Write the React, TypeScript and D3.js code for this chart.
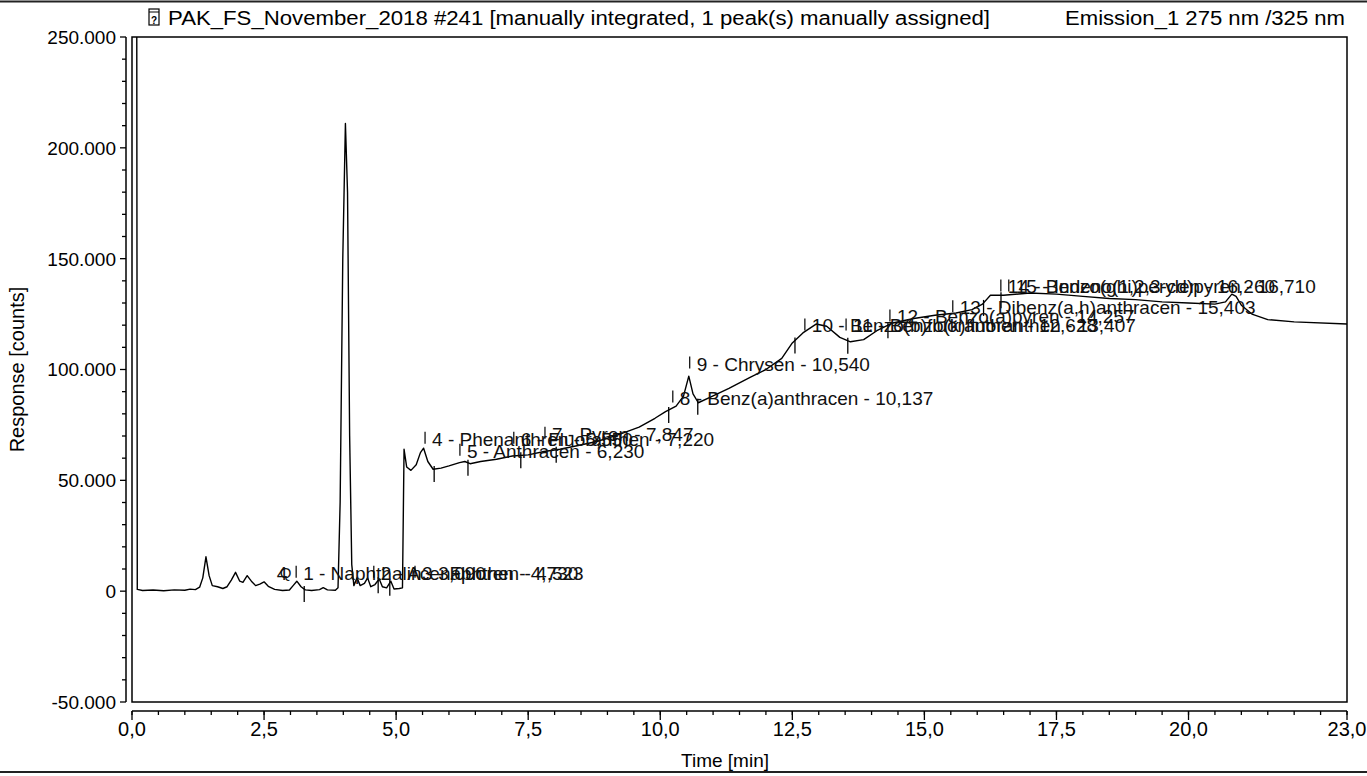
import React from "react";
import * as d3 from "d3";

// Chromatogram trace: retention time [min] and detector response [counts]
const traceTime = [
  0.0, 0.09, 0.1, 0.2, 0.4, 0.6, 0.8, 1.0, 1.1, 1.2, 1.28, 1.34, 1.4, 1.46, 1.52, 1.62, 1.72, 1.8, 1.88, 1.96,
  2.04, 2.1, 2.18, 2.26, 2.34, 2.42, 2.5, 2.58, 2.7, 2.85, 2.98, 3.05, 3.12, 3.2, 3.28, 3.4, 3.55, 3.62, 3.7,
  3.85, 3.9, 3.94, 3.99, 4.04, 4.08, 4.12, 4.16, 4.2, 4.26, 4.32, 4.4, 4.46, 4.52, 4.6, 4.68, 4.74, 4.82, 4.9,
  4.96, 5.06, 5.12, 5.15, 5.2, 5.28, 5.38, 5.46, 5.52, 5.6, 5.7, 5.85, 6.0, 6.2, 6.3, 6.4, 6.6, 6.9, 7.2, 7.5,
  7.8, 8.1, 8.4, 8.8, 9.2, 9.6, 9.9, 10.1, 10.3, 10.44, 10.54, 10.62, 10.72, 10.95, 11.3, 11.7, 12.0, 12.3,
  12.5, 12.7, 12.95, 13.15, 13.4, 13.6, 13.85, 14.1, 14.4, 14.8, 15.2, 15.6, 15.9, 16.1, 16.25, 16.5, 17.0,
  17.5, 18.0, 18.5, 19.0, 19.5, 20.0, 20.5, 20.7, 20.82, 20.9, 21.0, 21.2, 21.5, 22.0, 23.0,
];
const traceCounts = [
  262000, 262000, 800, 300, 500, 200, 600, 400, 900, 700, 1800, 6000, 15500, 7000, 2500, 2000, 1200, 2000, 5000,
  8500, 4500, 4000, 7000, 4500, 2500, 3200, 4200, 2200, 800, 300, 500, 2500, 4500, 2000, 600, 300, 700, 1600,
  600, 400, 1500, 40000, 150000, 211000, 180000, 70000, 12000, 2500, 6000, 2500, 3500, 6000, 2000, 3000, 5500,
  2000, 1500, 4500, 1000, 1200, 1500, 64000, 56000, 54500, 57000, 62500, 64500, 58500, 55000, 55500, 56500,
  58000, 58500, 57500, 58500, 59500, 61000, 61500, 63000, 64000, 65500, 67500, 70500, 74000, 78000, 81000,
  83500, 88000, 97000, 89000, 85000, 87500, 91500, 96500, 100000, 105000, 112000, 116500, 120500, 119500,
  114500, 112500, 113500, 117500, 121000, 123000, 124500, 125500, 127000, 129500, 133500, 133500, 134500,
  134000, 133000, 132000, 131500, 130500, 130000, 129500, 130500, 134000, 133000, 129000, 125000, 122500,
  121500, 120500,
];

// Identified peaks
const peakNumbers = [1, 2, 3, 4, 5, 6, 7, 8, 9, 10, 11, 12, 13, 14, 15];
const peakNames = [
  "Naphthalin", "Acenaphthen", "Fluoren", "Phenanthren", "Anthracen", "Fluoranthen", "Pyren",
  "Benz(a)anthracen", "Chrysen", "Benzo(b)fluoranthen", "Benzo(k)fluoranthen", "Benzo(a)pyren",
  "Dibenz(a,h)anthracen", "Benzo(ghi)perylen", "Indeno(1,2,3-cd)pyren",
];
const peakTimes = [
  "3,090", "4,523", "4,730", "5,550", "6,230", "7,220", "7,847", "10,137", "10,540", "12,628", "13,407",
  "14,257", "15,403", "16,260", "16,710",
];

// Integration boundaries [min]
const boundaryTimes = [3.26, 4.66, 4.88, 5.72, 6.36, 7.36, 8.03, 10.16, 10.71, 12.55, 13.55, 14.31, 16.12, 16.45];

// Axis ticks
const yMajorTicks = [-50000, 0, 50000, 100000, 150000, 200000, 250000];
const yTickLabels = ["-50.000", "0", "50.000", "100.000", "150.000", "200.000", "250.000"];
const xMajorTicks = [0, 2.5, 5, 7.5, 10, 12.5, 15, 17.5, 20, 23];
const xTickLabels = ["0,0", "2,5", "5,0", "7,5", "10,0", "12,5", "15,0", "17,5", "20,0", "23,0"];

// Where each peak label is written (time, counts of text baseline)
const labelAnchors: [number, number][] = [
  [3.24, 5100], [4.71, 5100], [5.49, 5100], [5.68, 65600], [6.34, 60200], [7.36, 65600], [7.95, 67900],
  [10.37, 84200], [10.69, 99500], [12.87, 116700], [13.65, 116700], [14.48, 120800], [15.67, 124900],
  [16.58, 134300], [16.73, 134300],
];

const W = 1367;
const H = 776;
const FONT = "'Liberation Sans', Arial, sans-serif";

export default function App() {
  const x = d3.scaleLinear().domain([0, 23]).range([132, 1347]);
  const y = d3.scaleLinear().domain([-50000, 250000]).range([702, 37]);
  const top = y(250000);
  const bottom = y(-50000);
  const left = x(0);
  const right = x(23);

  const pts: [number, number][] = traceTime.map((t, i) => [t, traceCounts[i]]);
  const line = d3
    .line<[number, number]>()
    .x((d) => x(d[0]))
    .y((d) => y(d[1]));
  const interp = (t: number) => {
    const i = d3.bisectLeft(traceTime, t);
    if (i <= 0) return traceCounts[0];
    if (i >= traceTime.length) return traceCounts[traceCounts.length - 1];
    const t0 = traceTime[i - 1], t1 = traceTime[i];
    const f = (t - t0) / (t1 - t0);
    return traceCounts[i - 1] + f * (traceCounts[i] - traceCounts[i - 1]);
  };

  const yMinor = d3.range(-50000, 250001, 10000);
  const xMinor = d3.range(0, 23.001, 0.5);
  const axisY = 711;
  const yAxisX = 126;

  return (
    <svg
      width={W}
      height={H}
      style={{ position: "absolute", left: 0, top: 0, background: "#fff" }}
      fontFamily={FONT}
    >
      <rect x={0} y={0} width={W} height={H} fill="#fff" />
      {/* page rules */}
      <line x1={0} x2={W} y1={1.5} y2={1.5} stroke="#222" strokeWidth={2} />
      <line x1={0} x2={W} y1={772} y2={772} stroke="#222" strokeWidth={2} />

      {/* title */}
      <g>
        <rect x={149} y={9} width={10} height={16} fill="none" stroke="#000" strokeWidth={1.2} />
        <line x1={149} x2={159} y1={12} y2={12} stroke="#000" strokeWidth={1} />
        <text x={154} y={23.5} fontSize={10} textAnchor="middle" fontWeight="bold">?</text>
        <text x={168} y={25} fontSize={20} textLength={822} lengthAdjust="spacingAndGlyphs">
          PAK_FS_November_2018 #241 [manually integrated, 1 peak(s) manually assigned]
        </text>
        <text x={1065} y={25} fontSize={20} textLength={280} lengthAdjust="spacingAndGlyphs">
          Emission_1 275 nm /325 nm
        </text>
      </g>

      {/* plot frame */}
      <rect x={left} y={top} width={right - left} height={bottom - top} fill="none" stroke="#000" strokeWidth={1.5} />

      {/* y axis */}
      <line x1={yAxisX} x2={yAxisX} y1={top} y2={bottom} stroke="#000" strokeWidth={1.5} />
      {yMinor.map((v) => {
        const major = v % 50000 === 0;
        return (
          <line key={"ym" + v} x1={yAxisX - (major ? 6 : 4)} x2={yAxisX} y1={y(v)} y2={y(v)} stroke="#000" strokeWidth={1.3} />
        );
      })}
      {yMajorTicks.map((v, i) => (
        <text key={"yl" + v} x={116} y={y(v)} dy="0.36em" fontSize={19} textAnchor="end">
          {yTickLabels[i]}
        </text>
      ))}
      <text transform={`translate(24,${(top + bottom) / 2}) rotate(-90)`} fontSize={20} textAnchor="middle">
        Response [counts]
      </text>

      {/* x axis */}
      <line x1={left} x2={right} y1={axisY} y2={axisY} stroke="#000" strokeWidth={1.5} />
      {xMinor.map((t) => (
        <line key={"xm" + t} x1={x(t)} x2={x(t)} y1={axisY} y2={axisY + 4} stroke="#000" strokeWidth={1.3} />
      ))}
      {xMajorTicks.map((t, i) => (
        <g key={"xl" + t}>
          <line x1={x(t)} x2={x(t)} y1={axisY} y2={axisY + 9} stroke="#000" strokeWidth={1.3} />
          <text x={x(t)} y={736} fontSize={20} textAnchor="middle">
            {xTickLabels[i]}
          </text>
        </g>
      ))}
      <text x={725} y={767} fontSize={19} textAnchor="middle">
        Time [min]
      </text>

      {/* trace */}
      <defs>
        <clipPath id="plotClip">
          <rect x={left} y={top} width={right - left} height={bottom - top} />
        </clipPath>
      </defs>
      <g clipPath="url(#plotClip)">
        <path d={line(pts) ?? ""} fill="none" stroke="#000" strokeWidth={1.4} strokeLinejoin="round" />
        {boundaryTimes.map((t) => {
          const py = y(interp(t));
          return <line key={"b" + t} x1={x(t)} x2={x(t)} y1={py - 3} y2={py + 13} stroke="#000" strokeWidth={1.3} />;
        })}
      </g>

      {/* peak labels */}
      <g fontSize={19} fill="#111">
        <text x={x(2.74)} y={y(5100)}>4</text>
        <text x={x(2.74) + 3} y={y(5100) - 2} fontSize={15}>Q</text>
        {peakNumbers.map((n, i) => {
          const [lt, lv] = labelAnchors[i];
          const tx = x(lt);
          const ty = y(lv);
          return (
            <g key={"p" + n}>
              <line x1={tx - 7} x2={tx - 7} y1={ty - 14} y2={ty - 2} stroke="#000" strokeWidth={1.2} />
              <text x={tx} y={ty}>
                {`${n} - ${peakNames[i]} - ${peakTimes[i]}`}
              </text>
            </g>
          );
        })}
      </g>
    </svg>
  );
}
